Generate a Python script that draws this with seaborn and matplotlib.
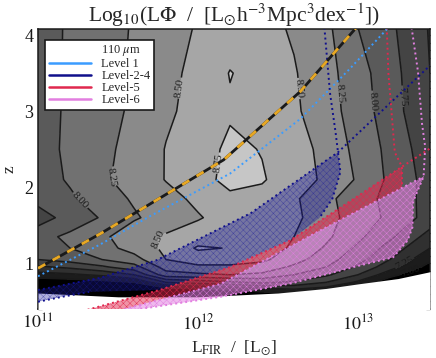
import numpy as np
import matplotlib
matplotlib.use("Agg")
import matplotlib.pyplot as plt
from matplotlib.lines import Line2D
from matplotlib.ticker import FixedLocator, MultipleLocator
import seaborn as sns

# --- log10(L Phi) map on a coarse grid -----------------------------------
log_lfir = [11.0, 11.2, 11.4, 11.6, 11.8, 12.0, 12.2, 12.4, 12.6, 12.8, 13.0, 13.2, 13.45]
redshift = [0.40, 0.55, 0.65, 0.75, 0.85, 0.95, 1.05, 1.20, 1.35, 1.60, 1.85, 2.10, 2.50, 3.00, 3.50, 4.10]
log_lphi = [
    [5.80, 5.90, 6.00, 6.10, 6.20, 6.30, 6.40, 6.50, 6.50, 6.50, 6.40, 6.30, 6.20],
    [6.00, 6.10, 6.20, 6.30, 6.40, 6.50, 6.60, 6.70, 6.80, 6.80, 6.70, 6.50, 6.30],
    [6.40, 6.45, 6.50, 6.60, 6.80, 6.90, 7.00, 7.10, 7.20, 7.10, 6.90, 6.65, 6.40],
    [6.80, 6.85, 6.90, 7.00, 7.50, 7.60, 7.70, 7.80, 7.70, 7.50, 7.20, 6.80, 6.50],
    [7.15, 7.20, 7.30, 7.50, 8.15, 8.20, 8.25, 8.20, 8.00, 7.80, 7.50, 7.10, 6.70],
    [7.45, 7.55, 7.70, 7.90, 8.35, 8.45, 8.45, 8.40, 8.20, 8.00, 7.70, 7.35, 6.90],
    [7.75, 7.85, 8.00, 8.15, 8.50, 8.62, 8.62, 8.55, 8.35, 8.10, 7.85, 7.50, 7.05],
    [7.90, 8.00, 8.15, 8.35, 8.55, 8.78, 8.74, 8.66, 8.45, 8.22, 7.95, 7.65, 7.25],
    [7.92, 8.05, 8.20, 8.40, 8.53, 8.62, 8.63, 8.62, 8.50, 8.30, 8.05, 7.80, 7.40],
    [7.62, 7.86, 8.02, 8.22, 8.36, 8.48, 8.60, 8.64, 8.56, 8.34, 8.13, 7.95, 7.65],
    [7.84, 7.96, 8.13, 8.28, 8.42, 8.55, 8.70, 8.68, 8.54, 8.31, 8.12, 7.92, 7.66],
    [7.88, 8.03, 8.21, 8.35, 8.51, 8.66, 8.82, 8.77, 8.63, 8.45, 8.22, 7.95, 7.65],
    [7.90, 8.05, 8.19, 8.33, 8.51, 8.64, 8.80, 8.74, 8.62, 8.42, 8.18, 7.93, 7.60],
    [7.90, 8.04, 8.16, 8.29, 8.46, 8.58, 8.72, 8.66, 8.54, 8.36, 8.13, 7.87, 7.52],
    [7.91, 8.03, 8.17, 8.28, 8.44, 8.56, 8.76, 8.66, 8.52, 8.34, 8.10, 7.85, 7.50],
    [7.90, 8.03, 8.15, 8.27, 8.40, 8.52, 8.62, 8.58, 8.47, 8.31, 8.00, 7.80, 7.48],
]
line_levels = [7.00, 7.25, 7.50, 7.75, 8.00, 8.25, 8.50, 8.75]

# lower edge of the map (white below)
edge_logl = [11.0, 11.5, 12.0, 12.5, 12.8, 13.0, 13.25, 13.45]
edge_z = [0.61, 0.56, 0.56, 0.61, 0.67, 0.73, 0.80, 0.89]

# survey limits (log L, z)
lvl1_logl = [11.0, 11.39, 11.70, 12.20, 12.64, 12.95, 13.19]
lvl1_z = [0.83, 1.25, 1.62, 2.18, 2.90, 3.56, 4.10]
gold_logl = [11.0, 11.39, 11.70, 12.16, 12.64, 12.99]
gold_z = [0.935, 1.39, 1.78, 2.36, 3.26, 4.10]
b_flux_logl = [11.0, 11.39, 11.74, 12.33, 12.875, 13.45]
b_flux_z = [0.65, 0.81, 1.04, 1.66, 2.46, 3.60]
b_vol_logl = [12.79, 12.825, 12.86, 12.875, 12.89, 12.84, 12.76]
b_vol_z = [4.10, 3.24, 2.72, 2.46, 2.20, 1.85, 1.60]
b_low_logl = [11.0, 11.15, 11.32]
b_low_z = [0.495, 0.56, 0.625]
r_flux_logl = [11.31, 11.76, 12.20, 12.575, 12.95, 13.275, 13.45]
r_flux_z = [0.39, 0.65, 0.95, 1.30, 1.815, 2.27, 2.51]
r_vol_logl = [13.18, 13.19, 13.21, 13.23, 13.275, 13.275]
r_vol_z = [4.10, 3.50, 2.98, 2.46, 2.27, 1.99]
m_flux_logl = [11.54, 12.14, 12.78, 13.41]
m_flux_z = [0.40, 0.73, 1.45, 2.14]
m_vol_logl = [13.335, 13.375, 13.40, 13.42, 13.41, 13.345, 13.34, 13.31, 13.22, 12.97, 12.59, 12.14, 11.64]
m_vol_z = [4.10, 3.52, 2.84, 2.53, 2.14, 1.815, 1.47, 1.30, 1.08, 0.95, 0.74, 0.56, 0.40]

legend_labels = ["110 $\\mu$m", "Level 1", "Level-2-4", "Level-5", "Level-6"]

c_l1 = "#3b9cff"
c_l24 = "#10108c"
c_l5 = "#e0284e"
c_l6 = "#e27fe0"

sns.set_theme(style="ticks")
plt.rcParams["font.family"] = ["Liberation Serif", "DejaVu Serif"]
plt.rcParams["mathtext.fontset"] = "stix"
plt.rcParams["hatch.linewidth"] = 0.3

fig = plt.figure(figsize=(4.36, 3.58), dpi=100)
ax = fig.add_axes([0.0872, 0.1369, 0.899, 0.782])

band_colors = ["#000000", "#1c1c1c", "#303030", "#444444", "#5a5a5a",
               "#717171", "#8a8a8a", "#a6a6a6", "#c6c6c6"]
ax.contourf(log_lfir, redshift, log_lphi, levels=[4.0] + line_levels + [9.5],
            colors=band_colors, zorder=1)
cs = ax.contour(log_lfir, redshift, log_lphi, levels=line_levels,
                colors="k", linewidths=1.1, zorder=2)
label_spots = [(11.83, 3.32), (12.64, 3.30), (12.89, 3.24), (13.09, 3.13),
               (13.31, 3.20), (11.45, 2.14), (11.26, 1.82), (12.08, 2.33),
               (11.74, 1.32), (13.30, 0.97), (13.33, 0.88)]
ax.clabel(cs, manual=label_spots, fmt="%.2f", fontsize=8, inline=True,
          inline_spacing=1, colors="#1a1a1a")

ax.fill_between(edge_logl, 0.0, edge_z, color="white", lw=0, zorder=3)

# shaded level regions
blue_x = b_flux_logl[:5] + b_vol_logl[4:] + [12.575, 12.20, 11.76] + b_low_logl[::-1]
blue_y = b_flux_z[:5] + b_vol_z[4:] + [1.30, 0.95, 0.65] + b_low_z[::-1]
ax.fill(blue_x, blue_y, facecolor=(0.1, 0.1, 0.6, 0.35), edgecolor=(0.1, 0.1, 0.6, 0.6),
        hatch="xxxxx", lw=0, zorder=4)

red_x = r_flux_logl[:6] + [r_vol_logl[-1]] + m_flux_logl[2::-1]
red_y = r_flux_z[:6] + [r_vol_z[-1]] + m_flux_z[2::-1]
ax.fill(red_x, red_y, facecolor=(0.88, 0.16, 0.31, 0.5), edgecolor=c_l5,
        hatch="xxxxx", lw=0, zorder=4)

pink_x = m_flux_logl + m_vol_logl[5:]
pink_y = m_flux_z + m_vol_z[5:]
ax.fill(pink_x, pink_y, facecolor=(0.89, 0.5, 0.88, 0.55), edgecolor=c_l6,
        hatch="xxxxx", lw=0, zorder=4)

dots = (0, (1, 1.6))
for xs, ys, col in [(lvl1_logl, lvl1_z, c_l1),
                    (b_flux_logl, b_flux_z, c_l24),
                    (b_vol_logl, b_vol_z, c_l24),
                    (b_low_logl, b_low_z, c_l24),
                    (r_flux_logl, r_flux_z, c_l5),
                    (r_vol_logl, r_vol_z, c_l5),
                    (m_flux_logl, m_flux_z, c_l6),
                    (m_vol_logl, m_vol_z, c_l6)]:
    sns.lineplot(x=xs, y=ys, sort=False, estimator=None, color=col,
                 lw=1.4, linestyle=dots, ax=ax, zorder=6)

sns.lineplot(x=gold_logl, y=gold_z, sort=False, estimator=None, color="k",
             lw=2.0, ax=ax, zorder=7)
sns.lineplot(x=gold_logl, y=gold_z, sort=False, estimator=None, color="#e8a823",
             lw=2.0, linestyle=(0, (3, 3)), ax=ax, zorder=8)

ax.set_xlim(11.0, 13.45)
ax.set_ylim(0.40, 4.08)

ax.xaxis.set_major_locator(FixedLocator([11, 12, 13]))
ax.set_xticklabels(["$10^{11}$", "$10^{12}$", "$10^{13}$"])
minor_x = [d + np.log10(k) for d in (11, 12, 13) for k in range(2, 10)]
ax.xaxis.set_minor_locator(FixedLocator(minor_x))
ax.yaxis.set_major_locator(FixedLocator([1, 2, 3, 4]))
ax.yaxis.set_minor_locator(MultipleLocator(0.1))
ax.tick_params(which="both", direction="in", top=True, right=True,
               colors="k", labelsize=13, width=0.9)
ax.tick_params(which="major", length=6)
ax.tick_params(which="minor", length=3)
for sp in ax.spines.values():
    sp.set_linewidth(1.1)
    sp.set_color("k")

ax.set_title("Log$_{10}$(L$\\Phi$  /  [L$_{\\odot}$h$^{-3}$Mpc$^{3}$dex$^{-1}$])",
             fontsize=15.5, pad=4)
ax.set_xlabel("L$_{\\rm FIR}$  /  [L$_{\\odot}$]", fontsize=12.5, labelpad=3)
ax.set_ylabel("z", fontsize=12.5, labelpad=5)

handles = [Line2D([], [], color="none"),
           Line2D([], [], color=c_l1, lw=1.8),
           Line2D([], [], color=c_l24, lw=1.8),
           Line2D([], [], color=c_l5, lw=1.8),
           Line2D([], [], color=c_l6, lw=1.8)]
leg = ax.legend(handles, legend_labels, loc="upper left",
                bbox_to_anchor=(0.018, 0.962), fontsize=9, frameon=True,
                fancybox=False, edgecolor="k", framealpha=1,
                handlelength=3.4, handletextpad=0.8, labelspacing=0.0,
                borderpad=0.3, borderaxespad=0)
leg.get_frame().set_linewidth(1.2)
leg.set_zorder(10)

fig.savefig("out.png", dpi=100)
